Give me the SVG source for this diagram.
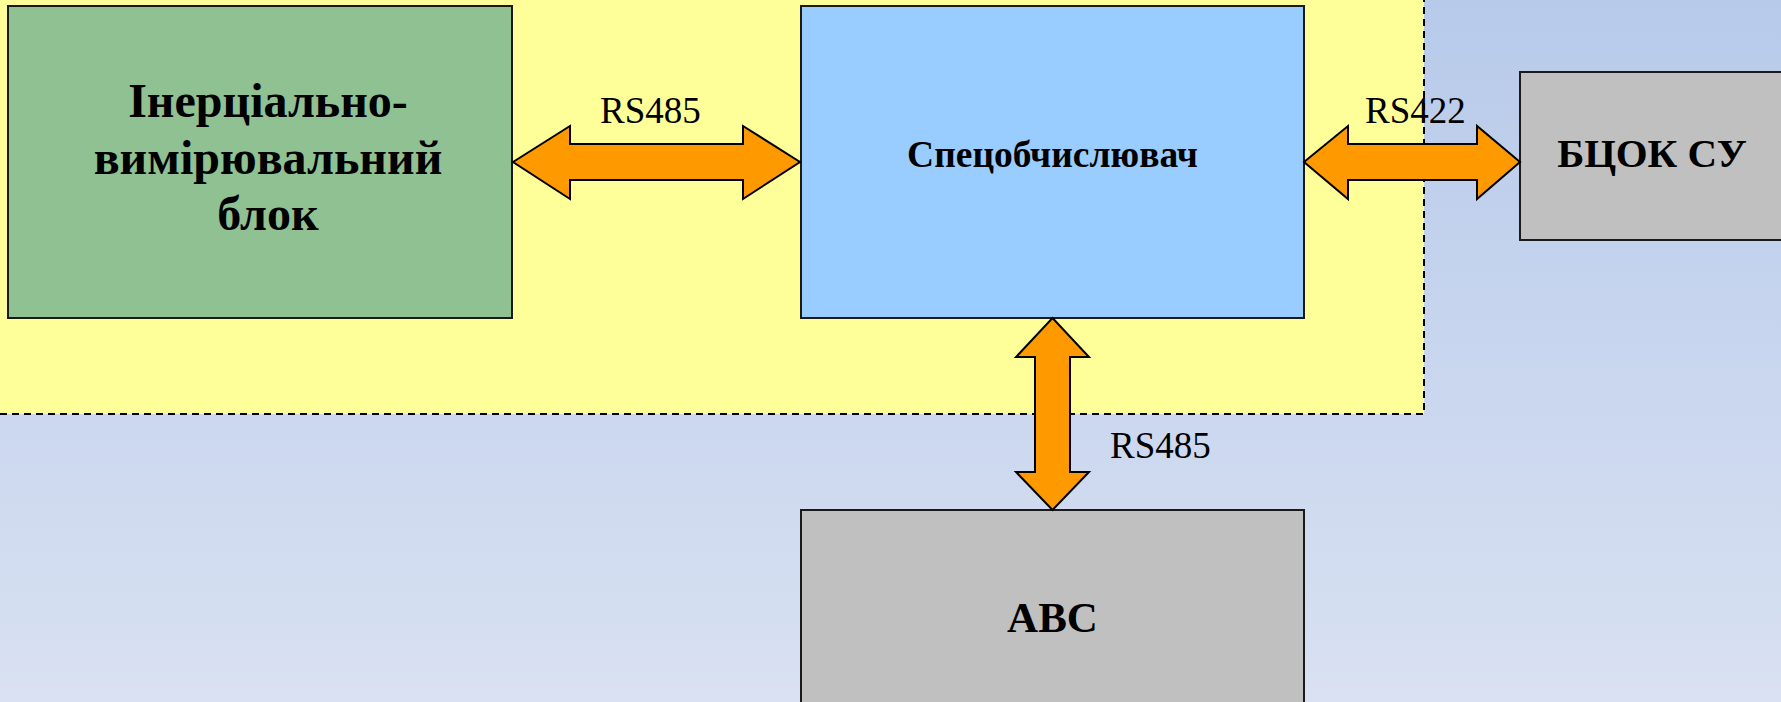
<svg xmlns="http://www.w3.org/2000/svg" width="1781" height="702" viewBox="0 0 1781 702">
  <defs>
    <linearGradient id="bg" x1="0" y1="0" x2="0" y2="1">
      <stop offset="0" stop-color="#b7caea"/>
      <stop offset="1" stop-color="#d9e1f2"/>
    </linearGradient>
    <style>
      .box { stroke: #1a1a1a; stroke-width: 2; }
      .title { font-family: "Liberation Serif", "Times New Roman", serif; font-weight: bold; fill: #000; text-anchor: middle; }
      .lbl { font-family: "Liberation Serif", "Times New Roman", serif; font-size: 37px; fill: #000; }
      .bus { fill: #ff9900; stroke: #000; stroke-width: 2; stroke-linejoin: miter; }
    </style>
  </defs>

  <!-- page background -->
  <rect x="0" y="0" width="1781" height="702" fill="url(#bg)"/>

  <!-- onboard area -->
  <rect x="0" y="0" width="1424" height="414" fill="#ffff99"/>

  <!-- bus labels -->
  <g id="labels">
    <text class="lbl" x="600" y="123">RS485</text>
    <text class="lbl" x="1365" y="123">RS422</text>
    <text class="lbl" x="1110" y="458">RS485</text>
  </g>

  <!-- dashed boundary of the onboard area -->
  <path d="M0 414 H1424 V0" fill="none" stroke="#000" stroke-width="2" stroke-dasharray="7 5"/>

  <g id="imu">
    <rect class="box" x="8" y="6" width="504" height="312" fill="#8fc193"/>
    <text class="title" font-size="48" x="268" y="117">Інерціально-</text>
    <text class="title" font-size="48" x="268" y="174">вимірювальний</text>
    <text class="title" font-size="48" x="268" y="230">блок</text>
  </g>

  <g id="computer">
    <rect class="box" x="801" y="6" width="503" height="312" fill="#99ccff"/>
    <text class="title" font-size="37.5" x="1052.5" y="167">Спецобчислювач</text>
  </g>

  <g id="bcok">
    <rect class="box" x="1520" y="72" width="280" height="168" fill="#c0c0c0"/>
    <text class="title" font-size="41" x="1652" y="167">БЦОК СУ</text>
  </g>

  <g id="abc">
    <rect class="box" x="801" y="510" width="503" height="210" fill="#c0c0c0"/>
    <text class="title" font-size="43" x="1052.5" y="632">ABC</text>
  </g>

  <g id="connectors">
    <!-- IMU <-> computer -->
    <path class="bus" d="M513 162 L570 126 V144 H743 V126 L800 162 L743 199 V180 H570 V199 Z"/>
    <!-- computer <-> BCOK -->
    <path class="bus" d="M1304 162 L1348 126 V144 H1477 V126 L1520 162 L1477 199 V180 H1348 V199 Z"/>
    <!-- computer <-> ABC -->
    <path class="bus" d="M1052.5 318 L1089 357 H1070 V472 H1089 L1052.5 510 L1016 472 H1035 V357 H1016 Z"/>
  </g>
</svg>
